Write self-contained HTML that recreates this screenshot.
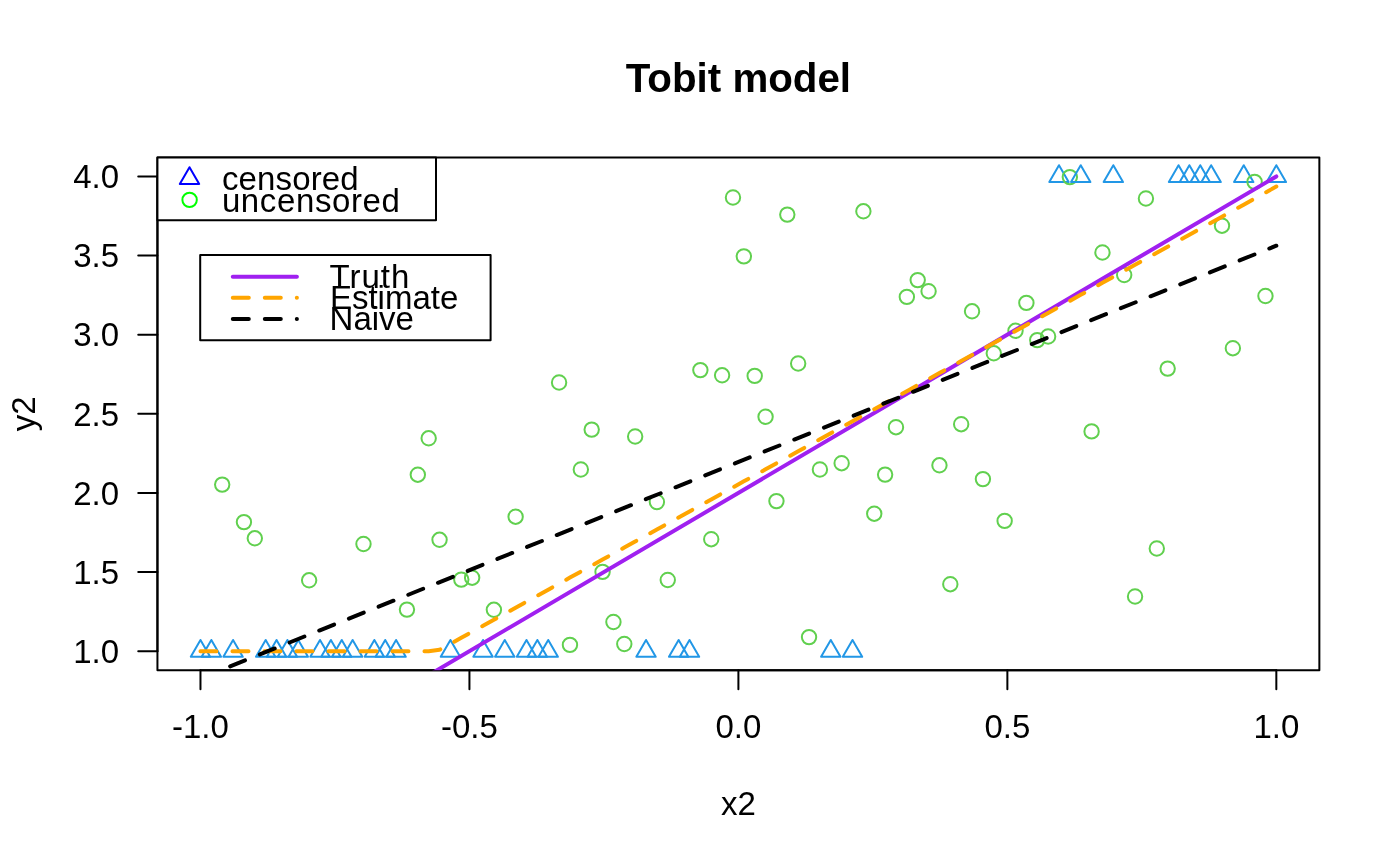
<!DOCTYPE html>
<html><head><meta charset="utf-8"><title>Tobit model</title>
<style>
html,body{margin:0;padding:0;background:#fff;}
svg{display:block;will-change:transform;font-family:"Liberation Sans",sans-serif;}
text{fill:#000;}
</style></head><body>
<svg width="1400" height="866" viewBox="0 0 1400 866">
<rect x="0" y="0" width="1400" height="866" fill="#fff"/>
<defs><clipPath id="cp"><rect x="157.44" y="157.44" width="1161.92" height="512.72"/></clipPath></defs>
<g clip-path="url(#cp)" fill="none" stroke-width="2" stroke-linejoin="round" stroke-linecap="round">

<path d="M200.47 639.97L210.17 656.77L190.77 656.77Z" stroke="#2297E6"/>
<path d="M211.34 639.97L221.03 656.77L201.64 656.77Z" stroke="#2297E6"/>
<circle cx="222.20" cy="484.60" r="7.2" stroke="#61D04F"/>
<path d="M233.07 639.97L242.77 656.77L223.37 656.77Z" stroke="#2297E6"/>
<circle cx="243.94" cy="522.10" r="7.2" stroke="#61D04F"/>
<circle cx="254.81" cy="538.30" r="7.2" stroke="#61D04F"/>
<path d="M265.67 639.97L275.37 656.77L255.98 656.77Z" stroke="#2297E6"/>
<path d="M276.54 639.97L286.24 656.77L266.84 656.77Z" stroke="#2297E6"/>
<path d="M287.41 639.97L297.11 656.77L277.71 656.77Z" stroke="#2297E6"/>
<path d="M298.28 639.97L307.97 656.77L288.58 656.77Z" stroke="#2297E6"/>
<circle cx="309.14" cy="580.30" r="7.2" stroke="#61D04F"/>
<path d="M320.01 639.97L329.71 656.77L310.31 656.77Z" stroke="#2297E6"/>
<path d="M330.88 639.97L340.57 656.77L321.18 656.77Z" stroke="#2297E6"/>
<path d="M341.74 639.97L351.44 656.77L332.05 656.77Z" stroke="#2297E6"/>
<path d="M352.61 639.97L362.31 656.77L342.92 656.77Z" stroke="#2297E6"/>
<circle cx="363.48" cy="544.00" r="7.2" stroke="#61D04F"/>
<path d="M374.35 639.97L384.04 656.77L364.65 656.77Z" stroke="#2297E6"/>
<path d="M385.21 639.97L394.91 656.77L375.52 656.77Z" stroke="#2297E6"/>
<path d="M396.08 639.97L405.78 656.77L386.38 656.77Z" stroke="#2297E6"/>
<circle cx="406.95" cy="609.60" r="7.2" stroke="#61D04F"/>
<circle cx="417.82" cy="474.70" r="7.2" stroke="#61D04F"/>
<circle cx="428.68" cy="438.30" r="7.2" stroke="#61D04F"/>
<circle cx="439.55" cy="539.80" r="7.2" stroke="#61D04F"/>
<path d="M450.42 639.97L460.11 656.77L440.72 656.77Z" stroke="#2297E6"/>
<circle cx="461.29" cy="579.60" r="7.2" stroke="#61D04F"/>
<circle cx="472.15" cy="577.70" r="7.2" stroke="#61D04F"/>
<path d="M483.02 639.97L492.72 656.77L473.32 656.77Z" stroke="#2297E6"/>
<circle cx="493.89" cy="609.80" r="7.2" stroke="#61D04F"/>
<path d="M504.75 639.97L514.45 656.77L495.06 656.77Z" stroke="#2297E6"/>
<circle cx="515.62" cy="516.70" r="7.2" stroke="#61D04F"/>
<path d="M526.49 639.97L536.19 656.77L516.79 656.77Z" stroke="#2297E6"/>
<path d="M537.36 639.97L547.05 656.77L527.66 656.77Z" stroke="#2297E6"/>
<path d="M548.22 639.97L557.92 656.77L538.53 656.77Z" stroke="#2297E6"/>
<circle cx="559.09" cy="382.50" r="7.2" stroke="#61D04F"/>
<circle cx="569.96" cy="644.90" r="7.2" stroke="#61D04F"/>
<circle cx="580.83" cy="469.50" r="7.2" stroke="#61D04F"/>
<circle cx="591.69" cy="429.60" r="7.2" stroke="#61D04F"/>
<circle cx="602.56" cy="571.90" r="7.2" stroke="#61D04F"/>
<circle cx="613.43" cy="622.00" r="7.2" stroke="#61D04F"/>
<circle cx="624.29" cy="644.00" r="7.2" stroke="#61D04F"/>
<circle cx="635.16" cy="436.50" r="7.2" stroke="#61D04F"/>
<path d="M646.03 639.97L655.73 656.77L636.33 656.77Z" stroke="#2297E6"/>
<circle cx="656.90" cy="502.00" r="7.2" stroke="#61D04F"/>
<circle cx="667.76" cy="580.00" r="7.2" stroke="#61D04F"/>
<path d="M678.63 639.97L688.33 656.77L668.93 656.77Z" stroke="#2297E6"/>
<path d="M689.50 639.97L699.20 656.77L679.80 656.77Z" stroke="#2297E6"/>
<circle cx="700.37" cy="370.10" r="7.2" stroke="#61D04F"/>
<circle cx="711.23" cy="539.20" r="7.2" stroke="#61D04F"/>
<circle cx="722.10" cy="375.30" r="7.2" stroke="#61D04F"/>
<circle cx="732.97" cy="197.50" r="7.2" stroke="#61D04F"/>
<circle cx="743.84" cy="256.40" r="7.2" stroke="#61D04F"/>
<circle cx="754.70" cy="375.90" r="7.2" stroke="#61D04F"/>
<circle cx="765.57" cy="416.75" r="7.2" stroke="#61D04F"/>
<circle cx="776.44" cy="501.10" r="7.2" stroke="#61D04F"/>
<circle cx="787.30" cy="214.60" r="7.2" stroke="#61D04F"/>
<circle cx="798.17" cy="363.50" r="7.2" stroke="#61D04F"/>
<circle cx="809.04" cy="637.10" r="7.2" stroke="#61D04F"/>
<circle cx="819.91" cy="469.50" r="7.2" stroke="#61D04F"/>
<path d="M830.77 639.97L840.47 656.77L821.08 656.77Z" stroke="#2297E6"/>
<circle cx="841.64" cy="463.20" r="7.2" stroke="#61D04F"/>
<path d="M852.51 639.97L862.21 656.77L842.81 656.77Z" stroke="#2297E6"/>
<circle cx="863.38" cy="211.30" r="7.2" stroke="#61D04F"/>
<circle cx="874.24" cy="513.70" r="7.2" stroke="#61D04F"/>
<circle cx="885.11" cy="474.60" r="7.2" stroke="#61D04F"/>
<circle cx="895.98" cy="427.20" r="7.2" stroke="#61D04F"/>
<circle cx="906.84" cy="296.90" r="7.2" stroke="#61D04F"/>
<circle cx="917.71" cy="280.10" r="7.2" stroke="#61D04F"/>
<circle cx="928.58" cy="291.20" r="7.2" stroke="#61D04F"/>
<circle cx="939.45" cy="465.30" r="7.2" stroke="#61D04F"/>
<circle cx="950.31" cy="584.20" r="7.2" stroke="#61D04F"/>
<circle cx="961.18" cy="424.20" r="7.2" stroke="#61D04F"/>
<circle cx="972.05" cy="311.30" r="7.2" stroke="#61D04F"/>
<circle cx="982.92" cy="479.10" r="7.2" stroke="#61D04F"/>
<circle cx="993.78" cy="353.30" r="7.2" stroke="#61D04F"/>
<circle cx="1004.65" cy="520.90" r="7.2" stroke="#61D04F"/>
<circle cx="1015.52" cy="330.80" r="7.2" stroke="#61D04F"/>
<circle cx="1026.38" cy="302.90" r="7.2" stroke="#61D04F"/>
<circle cx="1037.25" cy="340.10" r="7.2" stroke="#61D04F"/>
<circle cx="1048.12" cy="336.50" r="7.2" stroke="#61D04F"/>
<path d="M1058.99 165.22L1068.68 182.02L1049.29 182.02Z" stroke="#2297E6"/>
<circle cx="1069.85" cy="177.10" r="7.2" stroke="#61D04F"/>
<path d="M1080.72 165.22L1090.42 182.02L1071.02 182.02Z" stroke="#2297E6"/>
<circle cx="1091.59" cy="431.40" r="7.2" stroke="#61D04F"/>
<circle cx="1102.46" cy="252.50" r="7.2" stroke="#61D04F"/>
<path d="M1113.32 165.22L1123.02 182.02L1103.63 182.02Z" stroke="#2297E6"/>
<circle cx="1124.19" cy="275.00" r="7.2" stroke="#61D04F"/>
<circle cx="1135.06" cy="596.50" r="7.2" stroke="#61D04F"/>
<circle cx="1145.93" cy="198.50" r="7.2" stroke="#61D04F"/>
<circle cx="1156.79" cy="548.50" r="7.2" stroke="#61D04F"/>
<circle cx="1167.66" cy="368.60" r="7.2" stroke="#61D04F"/>
<path d="M1178.53 165.22L1188.22 182.02L1168.83 182.02Z" stroke="#2297E6"/>
<path d="M1189.39 165.22L1199.09 182.02L1179.70 182.02Z" stroke="#2297E6"/>
<path d="M1200.26 165.22L1209.96 182.02L1190.56 182.02Z" stroke="#2297E6"/>
<path d="M1211.13 165.22L1220.83 182.02L1201.43 182.02Z" stroke="#2297E6"/>
<circle cx="1222.00" cy="225.70" r="7.2" stroke="#61D04F"/>
<circle cx="1232.86" cy="348.20" r="7.2" stroke="#61D04F"/>
<path d="M1243.73 165.22L1253.43 182.02L1234.03 182.02Z" stroke="#2297E6"/>
<circle cx="1254.60" cy="181.90" r="7.2" stroke="#61D04F"/>
<circle cx="1265.47" cy="296.00" r="7.2" stroke="#61D04F"/>
<path d="M1276.33 165.22L1286.03 182.02L1266.64 182.02Z" stroke="#2297E6"/>
</g>
<g fill="none" stroke="#000" stroke-width="2" stroke-linecap="round" stroke-linejoin="round">
<path d="M200.47 670.16H1276.33"/>
<path d="M200.47 670.16V689.36"/>
<path d="M469.44 670.16V689.36"/>
<path d="M738.40 670.16V689.36"/>
<path d="M1007.37 670.16V689.36"/>
<path d="M1276.33 670.16V689.36"/>
<path d="M157.44 651.17V176.42"/>
<path d="M157.44 651.17H138.24"/>
<path d="M157.44 572.04H138.24"/>
<path d="M157.44 492.92H138.24"/>
<path d="M157.44 413.79H138.24"/>
<path d="M157.44 334.67H138.24"/>
<path d="M157.44 255.54H138.24"/>
<path d="M157.44 176.42H138.24"/>
<rect x="157.44" y="157.44" width="1161.92" height="512.72"/>
</g>
<g font-size="33px">
<text id="xt0" x="200.47" y="738.4" text-anchor="middle">-1.0</text>
<text id="xt1" x="469.44" y="738.4" text-anchor="middle">-0.5</text>
<text id="xt2" x="738.40" y="738.4" text-anchor="middle">0.0</text>
<text id="xt3" x="1007.37" y="738.4" text-anchor="middle">0.5</text>
<text id="xt4" x="1276.33" y="738.4" text-anchor="middle">1.0</text>
<text id="yt0" x="119" y="662.97" text-anchor="end">1.0</text>
<text id="yt1" x="119" y="583.84" text-anchor="end">1.5</text>
<text id="yt2" x="119" y="504.72" text-anchor="end">2.0</text>
<text id="yt3" x="119" y="425.59" text-anchor="end">2.5</text>
<text id="yt4" x="119" y="346.47" text-anchor="end">3.0</text>
<text id="yt5" x="119" y="267.34" text-anchor="end">3.5</text>
<text id="yt6" x="119" y="188.22" text-anchor="end">4.0</text>
<text id="xl" x="738.4" y="815" text-anchor="middle">x2</text>
<text id="yl" transform="translate(34.6 413.8) rotate(-90)" text-anchor="middle">y2</text>
</g>
<text id="ti" x="738.4" y="91.75" text-anchor="middle" font-size="40.3px" font-weight="bold">Tobit model</text>
<g clip-path="url(#cp)" fill="none" stroke-width="4" stroke-linecap="round" stroke-linejoin="round">
<polyline points="200.47,809.42 1276.33,176.42" stroke="#A020F0"/>
<polyline points="200.47,651.17 211.34,651.17 222.20,651.17 233.07,651.17 243.94,651.17 254.81,651.17 265.67,651.17 276.54,651.17 287.41,651.17 298.28,651.17 309.14,651.17 320.01,651.17 330.88,651.17 341.74,651.17 352.61,651.17 363.48,651.17 374.35,651.17 385.21,651.17 396.08,651.17 406.95,651.17 417.82,651.17 428.68,651.17 439.55,649.82 450.42,643.80 461.28,637.78 472.15,631.77 483.02,625.75 493.89,619.74 504.75,613.72 515.62,607.70 526.49,601.69 537.36,595.67 548.22,589.66 559.09,583.64 569.96,577.62 580.82,571.61 591.69,565.59 602.56,559.58 613.43,553.56 624.29,547.54 635.16,541.53 646.03,535.51 656.90,529.49 667.76,523.48 678.63,517.46 689.50,511.45 700.36,505.43 711.23,499.41 722.10,493.40 732.97,487.38 743.83,481.37 754.70,475.35 765.57,469.33 776.44,463.32 787.30,457.30 798.17,451.29 809.04,445.27 819.90,439.25 830.77,433.24 841.64,427.22 852.51,421.21 863.37,415.19 874.24,409.17 885.11,403.16 895.98,397.14 906.84,391.13 917.71,385.11 928.58,379.09 939.44,373.08 950.31,367.06 961.18,361.05 972.05,355.03 982.91,349.01 993.78,343.00 1004.65,336.98 1015.52,330.97 1026.38,324.95 1037.25,318.93 1048.12,312.92 1058.98,306.90 1069.85,300.88 1080.72,294.87 1091.59,288.85 1102.45,282.84 1113.32,276.82 1124.19,270.80 1135.06,264.79 1145.92,258.77 1156.79,252.76 1167.66,246.74 1178.52,240.72 1189.39,234.71 1200.26,228.69 1211.13,222.68 1221.99,216.66 1232.86,210.64 1243.73,204.63 1254.60,198.61 1265.46,192.60 1276.33,186.58" stroke="#FFA500" stroke-dasharray="16 16"/>
<polyline points="200.47,678.30 1276.33,245.70" stroke="#000" stroke-dasharray="16 16"/>
</g>
<g fill="none" stroke-width="2" stroke-linejoin="round" stroke-linecap="round">
<rect x="157.44" y="157.44" width="278.56" height="62.86" fill="#fff" stroke="#000"/>
<path d="M189.50 167.20L199.20 184.00L179.80 184.00Z" stroke="#0000FF"/>
<circle cx="189.60" cy="199.90" r="7.2" stroke="#00FF00"/>
<rect x="200.2" y="255.1" width="290.40" height="85.20" fill="#fff" stroke="#000"/>
</g>
<g fill="none" stroke-width="4" stroke-linecap="round">
<path d="M232.8 276.7H296.9" stroke="#A020F0"/>
<path d="M232.8 297.8H296.9" stroke="#FFA500" stroke-dasharray="16 16"/>
<path d="M232.8 319.1H296.9" stroke="#000" stroke-dasharray="16 16"/>
</g>
<g font-size="33px">
<text id="l1a" x="221.9" y="190.3" letter-spacing="0.15">censored</text>
<text id="l1b" x="221.9" y="211.7" letter-spacing="0.62">uncensored</text>
<text id="l2a" x="329.6" y="287.9" letter-spacing="1">Truth</text>
<text id="l2b" x="329.9" y="309.3">Estimate</text>
<text id="l2c" x="329.6" y="330.3">Naive</text>
</g>
</svg></body></html>
